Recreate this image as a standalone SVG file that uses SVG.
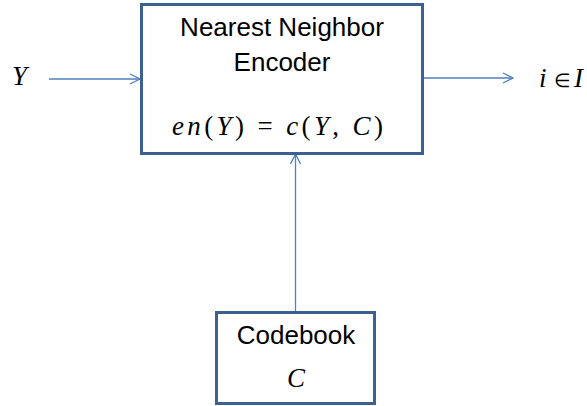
<svg xmlns="http://www.w3.org/2000/svg" width="587" height="406" viewBox="0 0 587 406">
<style>
.box{fill:#fff;stroke:#3C6190;stroke-width:3}
.lbl{font-family:"Liberation Sans",Arial,sans-serif;font-size:26px;fill:#000;text-anchor:middle}
.m{font-family:"Liberation Serif","Times New Roman",serif;font-size:27px;fill:#000}
.i{font-style:italic}
.conn{stroke:#4F81BD;stroke-width:1.3;fill:none}
</style>
<defs>
<marker id="ah" viewBox="0 0 12 12" refX="11" refY="6" markerWidth="12" markerHeight="12" markerUnits="userSpaceOnUse" orient="auto">
<path d="M1,1 L11,6 L1,11" fill="none" stroke="#4F81BD" stroke-width="1.3"/>
</marker>
</defs>
<g id="connectors">
<line class="conn" x1="49" y1="79" x2="140" y2="79" marker-end="url(#ah)"/>
<line class="conn" x1="423" y1="78" x2="513" y2="78" marker-end="url(#ah)"/>
<line class="conn" x1="295.5" y1="312" x2="295.5" y2="154" marker-end="url(#ah)"/>
</g>
<g id="encoder">
<rect class="box" x="141.5" y="4.5" width="281" height="149"/>
<text class="lbl" x="282" y="36">Nearest Neighbor</text>
<text class="lbl" x="282" y="71">Encoder</text>
<text class="m" x="172" y="135" font-size="28" textLength="211" lengthAdjust="spacing"><tspan class="i">en</tspan>(<tspan class="i">Y</tspan>) = <tspan class="i">c</tspan>(<tspan class="i">Y</tspan>, <tspan class="i">C</tspan>)</text>
</g>
<g id="codebook">
<rect class="box" x="216.5" y="312.5" width="158" height="91"/>
<text class="lbl" x="296" y="344">Codebook</text>
<text class="m i" x="296" y="387" text-anchor="middle">C</text>
</g>
<g id="input">
<text class="m i" x="12" y="85">Y</text>
</g>
<g id="output">
<text class="m" x="539" y="87"><tspan class="i">i</tspan><tspan x="554" font-size="19">∈</tspan><tspan x="574" class="i">I</tspan></text>
</g>
</svg>
